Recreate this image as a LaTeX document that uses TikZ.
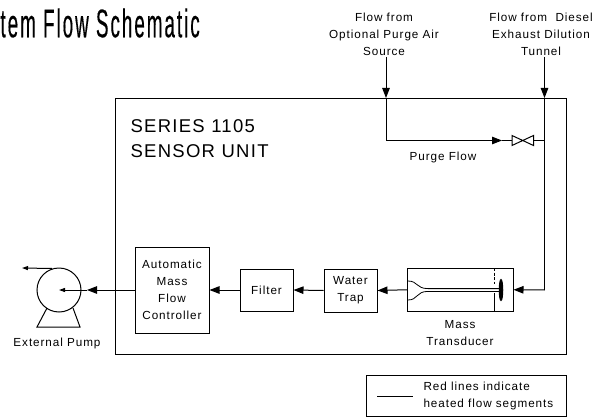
\documentclass[tikz,border=0pt]{standalone}
\usepackage{fontspec}
\setmainfont{Liberation Sans}
\newfontfamily\labelfont[LetterSpace=8]{Liberation Sans}
\newfontfamily\headfont[LetterSpace=7]{Liberation Sans}
\newfontfamily\titlefont[FakeStretch=0.47,LetterSpace=5,FakeBold=0.25]{Liberation Sans}
\usetikzlibrary{arrows.meta,shapes.geometric}
\tikzset{
  every path/.style={line width=1pt},
  lbl/.style={font=\labelfont\fontsize{11.7}{17}\selectfont,align=center,inner sep=0pt,text=black},
  blockbox/.style={draw,minimum width=#1,inner sep=0pt,align=center,font=\labelfont\fontsize{11.7}{17}\selectfont},
  flow/.style={-{Triangle[length=10pt,width=7.5pt]}},
  smallflow/.style={-{Triangle[length=6pt,width=4pt]}}
}
\begin{document}
\begin{tikzpicture}[x=1pt,y=-1pt]
\useasboundingbox (0,0) rectangle (609,417);
\node[anchor=west,inner sep=0pt,font=\titlefont\fontsize{40}{40}\selectfont] (title) at (0,23) {tem Flow Schematic};
% sensor unit
\node[draw,minimum width=451pt,minimum height=256pt,inner sep=0pt] (unit) at (340.5,226) {};
\node[anchor=west,inner sep=0pt,align=left,font=\headfont\fontsize{18.5}{25}\selectfont] (unitlabel) at (130,139) {SERIES 1105\\SENSOR UNIT};
% blocks
\node[blockbox=74pt,minimum height=86pt] (amfc) at (172,290) {Automatic\\Mass\\Flow\\Controller};
\node[blockbox=53pt,minimum height=42pt] (filter) at (266.5,290) {Filter};
\node[blockbox=53pt,minimum height=43pt] (trap) at (350.5,290.5) {Water\\Trap};
\node[draw,minimum width=105.5pt,minimum height=43.5pt,inner sep=0pt] (mt) at (460.25,289.75) {};
\node[lbl] (mtlabel) at (460,333) {Mass\\Transducer};
% transducer internals
\draw[dash pattern=on 3pt off 1.5pt] (494,268) -- (494,284);
\draw (494,293) -- (494,311.5);
\draw[line width=0.8pt] (408,281) .. controls (418,281) and (416,288.6) .. (428,288.6) -- (500,288.6);
\draw[line width=0.8pt] (408,300) .. controls (418,300) and (416,291.4) .. (428,291.4) -- (500,291.4);
\node[draw,fill=black,ellipse,minimum width=3.5pt,minimum height=21pt,inner sep=0pt] (sensor) at (501,290) {};
% inlets
\node[lbl] (purgesrc) at (384,34) {Flow from\\Optional Purge Air\\Source};
\node[lbl] (diesel) at (541,34) {Flow from\ \ Diesel\\Exhaust Dilution\\Tunnel};
\coordinate (pin) at (386,98);
\coordinate (din) at (544.5,98);
\coordinate (pcorner) at (386,140.5);
\coordinate (dtee) at (544.5,140.5);
\coordinate (dcorner) at (544.5,290);
\draw[flow] (386,57) -- (pin);
\draw[flow] (544.5,57) -- (din);
\draw (pin) -- (pcorner);
\draw (din) -- (dcorner);
\coordinate (vl) at (512,140.5);
\coordinate (vr) at (533.5,140.5);
\coordinate (ptip) at (502,140.5);
\draw[flow] (pcorner) -- (ptip);
\draw (ptip) -- (vl);
\draw[fill=white] (512,135.5) -- (533.5,145.5) -- (533.5,135.5) -- (512,145.5) -- cycle;
\draw (vr) -- (dtee);
\node[lbl] (purgeflow) at (443,157) {Purge Flow};
% main flow
\draw[flow] (dcorner) -- (mt.east);
\draw[flow] (mt.west) -- (trap.east);
\draw[flow] (trap.west) -- (filter.east);
\draw[flow] (filter.west) -- (amfc.east);
% pump
\node[draw,circle,minimum size=44pt,inner sep=0pt] (pump) at (59,290) {};
\coordinate (pumpin) at (87,290);
\coordinate (pumpcentre) at (59,290);
\draw[flow] (amfc.west) -- (pumpin);
\draw[smallflow] (pumpin) -- (pumpcentre);
\coordinate (pumptop) at (52,268.5);
\coordinate (pumpout) at (22,268);
\draw[smallflow] (pumptop) -- (pumpout);
\draw (47,308) -- (37,327) -- (80,327) -- (73,308);
\node[lbl] (pumplabel) at (57,343) {External Pump};
% legend
\node[draw,minimum width=200pt,minimum height=41pt,inner sep=0pt] (legend) at (466,396) {};
\coordinate (ls) at (377,396);
\coordinate (le) at (413,396);
\draw[line width=0.7pt] (ls) -- (le);
\node[lbl,anchor=west,align=left] (legendtext) at (423,396) {Red lines indicate\\heated flow segments};
\end{tikzpicture}
\end{document}
